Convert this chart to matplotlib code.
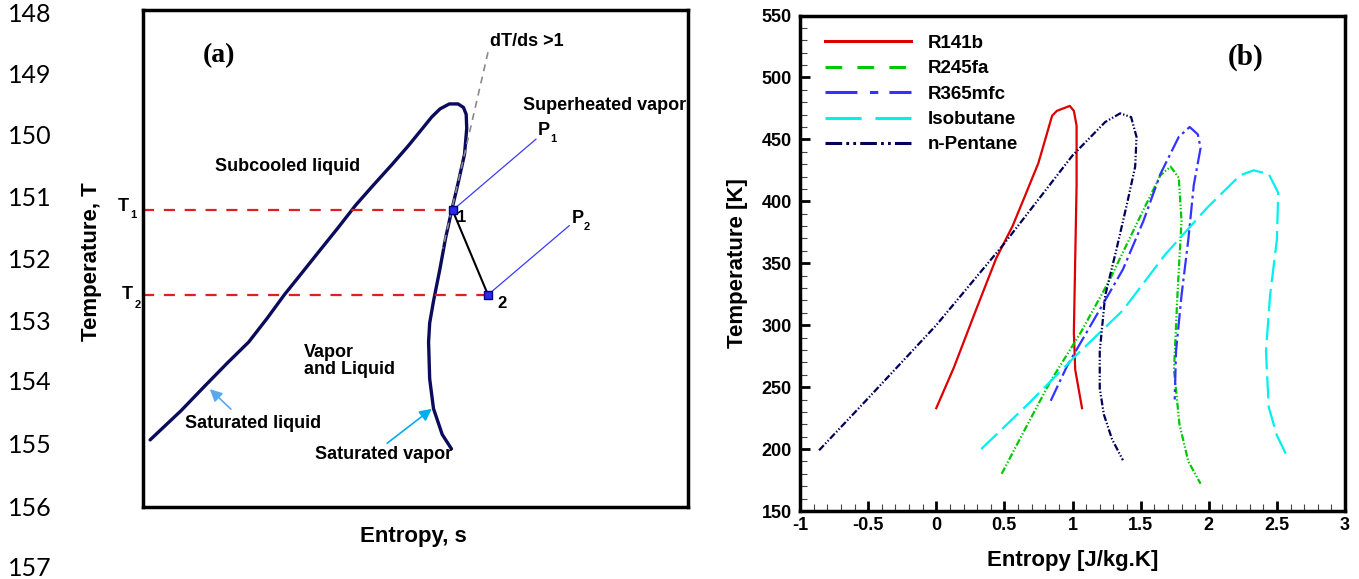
import matplotlib
matplotlib.use("Agg")
import matplotlib.pyplot as plt
from matplotlib.lines import Line2D
from matplotlib.ticker import MultipleLocator, FuncFormatter

plt.rcParams['font.family'] = ['Liberation Sans', 'DejaVu Sans']
plt.rcParams['font.weight'] = 'bold'
plt.rcParams['axes.labelweight'] = 'bold'
plt.rcParams['lines.scale_dashes'] = False

# numeros de linea del documento
line_numbers = ['148', '149', '150', '151', '152', '153', '154', '155', '156', '157']
line_number_y = [14, 75.5, 137, 199, 260, 322, 383, 445.5, 508, 569]

# (a) curva de saturacion esquematica (fracciones del marco)
sat_s = [0.013, 0.07, 0.113, 0.155, 0.194, 0.228, 0.26, 0.293, 0.325, 0.358, 0.39, 0.423, 0.456,
         0.487, 0.513, 0.53, 0.545, 0.562, 0.578, 0.588, 0.593, 0.594, 0.59, 0.578, 0.566,
         0.555, 0.545, 0.533, 0.526, 0.524, 0.526, 0.533, 0.549, 0.566]
sat_T = [0.135, 0.194, 0.243, 0.29, 0.332, 0.38, 0.428, 0.473, 0.517, 0.562, 0.607, 0.648, 0.688,
         0.727, 0.762, 0.785, 0.801, 0.811, 0.811, 0.804, 0.79, 0.762, 0.71, 0.651, 0.595,
         0.54, 0.48, 0.414, 0.37, 0.332, 0.258, 0.198, 0.146, 0.117]
tangent_s = [0.633, 0.55]
tangent_T = [0.915, 0.52]
state_s = [0.568, 0.633]
state_T = [0.597, 0.427]
p_end_s = [0.721, 0.782]
p_end_T = [0.740, 0.566]

# (b) datos de los fluidos
r141b_s = [0.0, 0.13, 0.28, 0.44, 0.56, 0.65, 0.75, 0.85, 0.885, 0.98, 1.01, 1.03, 1.03, 1.02, 1.01, 1.02, 1.07]
r141b_T = [233, 266, 309, 354, 380, 404, 431, 469, 473, 477, 473, 461, 413, 354, 294, 264, 233]
r245fa_s = [0.48, 0.68, 0.84, 1.06, 1.27, 1.52, 1.645, 1.72, 1.78, 1.80, 1.77, 1.745, 1.785, 1.85, 1.94]
r245fa_T = [180, 222, 255, 294, 336, 393, 421, 428, 419, 384, 324, 264, 220, 190, 172]
r365_s = [0.84, 0.96, 1.15, 1.37, 1.52, 1.645, 1.78, 1.86, 1.92, 1.94, 1.89, 1.85, 1.80, 1.76, 1.75]
r365_T = [239, 267, 303, 345, 384, 422, 452, 460, 454, 443, 413, 369, 324, 279, 240]
isob_s = [0.33, 0.68, 1.03, 1.37, 1.68, 1.99, 2.23, 2.33, 2.44, 2.51, 2.50, 2.45, 2.42, 2.44, 2.50, 2.58]
isob_T = [200, 237, 276, 312, 357, 395, 421, 425, 422, 407, 369, 324, 279, 234, 211, 193]
npent_s = [-0.86, -0.5, 0.0, 0.5, 1.0, 1.24, 1.35, 1.43, 1.47, 1.46, 1.40, 1.32, 1.24, 1.20, 1.20, 1.23, 1.29, 1.37]
npent_T = [199, 241, 300, 366, 437, 464, 471, 468, 452, 428, 398, 360, 324, 279, 249, 228, 208, 191]

fig = plt.figure(figsize=(13.59, 5.79), dpi=100)

for txt, yp in zip(line_numbers, line_number_y):
    fig.text(8 / 1359, 1 - yp / 579, txt, family='Lato', weight='normal', fontsize=18,
             ha='left', va='center', color='black')

# ---------- panel (a) ----------
axa = fig.add_axes([143 / 1359, 1 - 507 / 579, 545 / 1359, 497 / 579])
axa.set_xlim(0, 1)
axa.set_ylim(0, 1)
axa.set_xticks([])
axa.set_yticks([])
for sp in axa.spines.values():
    sp.set_linewidth(2.5)

axa.plot(sat_s, sat_T, color='#0b0b5c', lw=2.4, solid_capstyle='round', solid_joinstyle='round')
for s0, T0 in zip(state_s, state_T):
    axa.plot([0, s0], [T0, T0], color='#e02020', lw=1.6, dashes=(8, 7))
axa.plot(tangent_s, tangent_T, color='#8a8a8a', lw=1.2, dashes=(5, 4))
axa.plot(state_s, state_T, color='black', lw=1.5)
for s0, T0, s1, T1 in zip(state_s, state_T, p_end_s, p_end_T):
    axa.plot([s0, s1], [T0, T1], color='#3a3aff', lw=0.9)
axa.plot(state_s, state_T, 's', color='#2a2aee', mec='#000080', ms=6)

axa.text(0.139, 0.909, '(a)', family='Liberation Serif', fontsize=20, ha='center', va='center')
axa.text(0.637, 0.936, 'dT/ds >1', fontsize=13, ha='left', va='center')
axa.text(0.697, 0.807, 'Superheated vapor', fontsize=13, ha='left', va='center')
axa.text(0.265, 0.686, 'Subcooled liquid', fontsize=13, ha='center', va='center')
axa.text(0.296, 0.294, 'Vapor\nand Liquid', fontsize=13, ha='left', va='center', linespacing=0.95)
axa.text(0.077, 0.169, 'Saturated liquid', fontsize=13, ha='left', va='center')
axa.text(0.316, 0.105, 'Saturated vapor', fontsize=13, ha='left', va='center')
axa.text(0.725, 0.757, 'P', fontsize=13, ha='left', va='center')
axa.text(0.747, 0.74, '1', fontsize=8, ha='left', va='center')
axa.text(0.786, 0.58, 'P', fontsize=13, ha='left', va='center')
axa.text(0.808, 0.563, '2', fontsize=8, ha='left', va='center')
axa.text(0.585, 0.583, '1', fontsize=12, ha='center', va='center')
axa.text(0.659, 0.41, '2', fontsize=12, ha='center', va='center')
axa.text(-0.026, 0.604, 'T', fontsize=13, ha='right', va='center', clip_on=False)
axa.text(-0.024, 0.587, '1', fontsize=8, ha='left', va='center', clip_on=False)
axa.text(-0.018, 0.428, 'T', fontsize=13, ha='right', va='center', clip_on=False)
axa.text(-0.016, 0.407, '2', fontsize=8, ha='left', va='center', clip_on=False)

axa.annotate('', xy=(0.119, 0.241), xytext=(0.165, 0.193),
             arrowprops=dict(arrowstyle='-|>', color='#5aa8f0', lw=1.2, mutation_scale=18))
axa.annotate('', xy=(0.534, 0.201), xytext=(0.444, 0.125),
             arrowprops=dict(arrowstyle='-|>', color='#00aef0', lw=1.2, mutation_scale=18))

axa.text(-0.095, 0.493, 'Temperature, T', fontsize=16, rotation=90, ha='center', va='center')
axa.text(0.497, -0.06, 'Entropy, s', fontsize=16, ha='center', va='center')

# ---------- panel (b) ----------
axb = fig.add_axes([800 / 1359, 1 - 511 / 579, 545 / 1359, 495.5 / 579])
axb.plot(r141b_s, r141b_T, color='#dd0000', lw=1.6)
axb.plot(r245fa_s, r245fa_T, color='#00c800', lw=1.6, dashes=(5, 1.5, 1, 1.5, 1, 1.5))
axb.plot(r365_s, r365_T, color='#3333ff', lw=1.6, dashes=(12, 3, 2, 3))
axb.plot(isob_s, isob_T, color='#00f0f0', lw=1.6, dashes=(16, 5))
axb.plot(npent_s, npent_T, color='#000058', lw=1.6, dashes=(5, 1.5, 1, 1.5, 1, 1.5))

axb.set_xlim(-1, 3)
axb.set_ylim(150, 550)
axb.xaxis.set_major_locator(MultipleLocator(0.5))
axb.xaxis.set_minor_locator(MultipleLocator(0.1))
axb.yaxis.set_major_locator(MultipleLocator(50))
axb.yaxis.set_minor_locator(MultipleLocator(10))
axb.xaxis.set_major_formatter(FuncFormatter(lambda v, p: '%g' % v))
axb.tick_params(which='major', direction='in', length=7, width=2, labelsize=13, pad=4)
axb.tick_params(which='minor', direction='in', length=5, width=0.8, color='#444444')
axb.tick_params(axis='y', which='major', pad=6)
for lbl in axb.get_xticklabels() + axb.get_yticklabels():
    lbl.set_fontweight('bold')
for sp in axb.spines.values():
    sp.set_linewidth(2.5)

axb.set_xlabel('Entropy [J/kg.K]', fontsize=16, labelpad=12)
axb.set_ylabel('Temperature [K]', fontsize=16, labelpad=10)
axb.text(2.27, 516, '(b)', family='Liberation Serif', fontsize=21, ha='center', va='center')

handles = [
    Line2D([], [], color='#dd0000', lw=2.2),
    Line2D([], [], color='#00c800', lw=2.2, dashes=(12, 11)),
    Line2D([], [], color='#3333ff', lw=2.2, dashes=(23, 9, 6, 8)),
    Line2D([], [], color='#00f0f0', lw=2.2, dashes=(26, 10)),
    Line2D([], [], color='#000058', lw=2.2, dashes=(12, 3, 2, 3, 2, 3)),
]
labels = ['R141b', 'R245fa', 'R365mfc', 'Isobutane', 'n-Pentane']
axb.legend(handles, labels, loc='upper left', bbox_to_anchor=(0.046, 0.961), frameon=False,
           fontsize=13.5, handlelength=4.6, handletextpad=0.9, labelspacing=0.44,
           borderpad=0, borderaxespad=0)

fig.savefig('out.png', dpi=100)
